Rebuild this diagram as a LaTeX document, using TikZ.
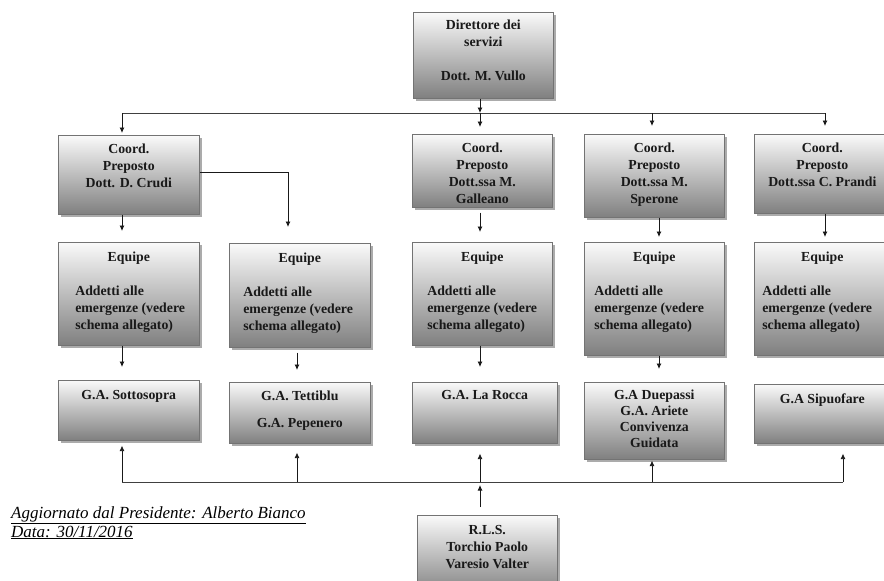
\documentclass[tikz,border=0pt]{standalone}
\usepackage{fontspec}
\setmainfont{Liberation Serif}
\usetikzlibrary{shadows,arrows.meta}
\newcommand{\bxx}[4]{\parbox[c][#2][t]{#1}{\vspace*{#3}#4}}
\newcommand{\equipetext}[1]{{\centering Equipe\par}\vspace{17pt}{\raggedright\leftskip=#1pt Addetti alle\\emergenze (vedere\\schema allegato)\par}}
\begin{document}
\begin{tikzpicture}[x=1pt,y=-1pt,
  box/.style={draw=black!55, line width=0.6pt, top color=black!2, bottom color=black!50,
    drop shadow={shadow xshift=2.5pt, shadow yshift=-2.5pt, fill=black!55, opacity=0.6},
    inner sep=0pt, anchor=north west, font=\bfseries\fontsize{13.8}{17}\selectfont, text=black!90},
  arr/.style={-{Latex[length=5.5pt,width=5pt]}, line width=0.8pt, draw=black!90},
  bar/.style={line width=0.8pt, draw=black!75},
  note/.style={anchor=base west, inner sep=0pt, font=\itshape\fontsize{17}{19}\selectfont}]
\useasboundingbox (0,0) rectangle (884,581);

% boxes
\node[box] (dir) at (413,12) {\bxx{140pt}{86pt}{8pt}{\centering Direttore dei\\servizi\\[17pt]Dott. M. Vullo}};

\node[box] (c1) at (58,135) {\bxx{141pt}{79pt}{9pt}{\centering Coord.\\Preposto\\Dott. D. Crudi}};
\node[box] (c3) at (412,134) {\bxx{140pt}{73pt}{9pt}{\centering Coord.\\Preposto\\Dott.ssa M.\\Galleano}};
\node[box] (c4) at (584,134) {\bxx{140pt}{83pt}{9pt}{\centering Coord.\\Preposto\\Dott.ssa M.\\Sperone}};
\node[box] (c5) at (754,134) {\bxx{136pt}{79pt}{9pt}{\centering Coord.\\Preposto\\Dott.ssa C. Prandi}};

\node[box] (e1) at (58,242) {\bxx{141pt}{103pt}{10pt}{\equipetext{17}}};
\node[box] (e2) at (229,243) {\bxx{141pt}{104pt}{10pt}{\equipetext{14}}};
\node[box] (e3) at (412,242) {\bxx{140pt}{103pt}{10pt}{\equipetext{15}}};
\node[box] (e4) at (584,242) {\bxx{140pt}{113pt}{10pt}{\equipetext{10}}};
\node[box] (e5) at (754,242) {\bxx{136pt}{113pt}{10pt}{\equipetext{8}}};

\node[box] (g1) at (58,380) {\bxx{141pt}{60pt}{10pt}{\centering G.A. Sottosopra}};
\node[box] (g2) at (229,382) {\bxx{141pt}{61pt}{8.5pt}{\centering G.A. Tettiblu\\[10pt]G.A. Pepenero}};
\node[box] (g3) at (412,382) {\bxx{145pt}{61pt}{8.5pt}{\centering G.A. La Rocca}};
\node[box] (g4) at (584,382) {\bxx{140pt}{77pt}{8pt}{\centering\baselineskip=16pt G.A Duepassi\\G.A. Ariete\\Convivenza\\Guidata}};
\node[box] (g5) at (754,384) {\bxx{136pt}{59pt}{9pt}{\centering G.A Sipuofare}};

\node[box] (rls) at (417,515) {\bxx{140pt}{80pt}{10pt}{\centering R.L.S.\\Torchio Paolo\\Varesio Valter}};

% junction coordinates
\coordinate (b1) at (122,113);
\coordinate (b3) at (480,113);
\coordinate (b4) at (652,113);
\coordinate (b5) at (825,113);
\coordinate (k) at (288,172);
\coordinate (x2) at (297,0);
\coordinate (x4) at (659,0);
\coordinate (d1) at (122,482);
\coordinate (d2) at (297,482);
\coordinate (d3) at (480,482);
\coordinate (d4) at (652,482);
\coordinate (d5) at (843,482);

% top bus
\draw[bar] (b1) -- (b5);
\draw[arr] (dir.south -| b3) -- (b3);
\draw[arr, shorten >=2pt] (b1) -- (c1.north -| b1);
\draw[arr, shorten >=7pt] (b3) -- (c3.north -| b3);
\draw[arr, shorten >=8pt] (b4) -- (c4.north -| b4);
\draw[arr, shorten >=8pt] (b5) -- (c5.north -| b5);

% coord -> equipe
\draw[arr, shorten >=11pt] (c1.south -| b1) -- (e1.north -| b1);
\draw[arr, shorten >=16pt] (c1.east |- k) -- (k) -- (k |- e2.north);
\draw[arr, shorten <=5pt, shorten >=10pt] (c3.south -| b3) -- (e3.north -| b3);
\draw[arr, shorten >=5pt] (c4.south -| x4) -- (e4.north -| x4);
\draw[arr, shorten >=5pt] (c5.south -| b5) -- (e5.north -| b5);

% equipe -> GA
\draw[arr, shorten >=13pt] (e1.south -| b1) -- (g1.north -| b1);
\draw[arr, shorten <=5pt, shorten >=12pt] (e2.south -| x2) -- (g2.north -| x2);
\draw[arr, shorten >=15pt] (e3.south -| b3) -- (g3.north -| b3);
\draw[arr, shorten >=13pt] (e4.south -| x4) -- (g4.north -| x4);

% bottom bus
\draw[bar] (d1) -- (d5);
\draw[arr, shorten >=5pt] (d1) -- (g1.south -| d1);
\draw[arr, shorten >=9pt] (d2) -- (g2.south -| d2);
\draw[arr, shorten >=10pt] (d3) -- (g3.south -| d3);
\draw[arr, shorten >=1pt] (d4) -- (g4.south -| d4);
\draw[arr, shorten >=10pt] (d5) -- (g5.south -| d5);
\draw[arr, shorten <=8pt, shorten >=3pt] (rls.north -| d3) -- (d3);

% note
\node[note] (n1) at (11,518) {\underline{Aggiornato dal Presidente: Alberto Bianco}};
\node[note] (n2) at (11,537) {\underline{Data: 30/11/2016}};
\end{tikzpicture}
\end{document}
